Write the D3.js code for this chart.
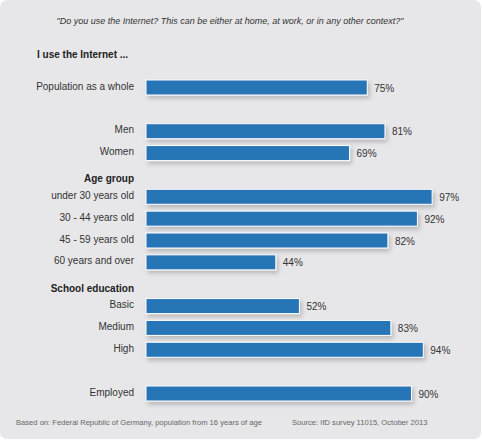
<!DOCTYPE html>
<html>
<head>
<meta charset="utf-8">
<script src="https://cdn.jsdelivr.net/npm/d3@7"></script>
<style>
  body { margin: 0; background: #fff; }
  svg { display: block; font-family: "Liberation Sans", Arial, sans-serif; }
</style>
</head>
<body>
<script>
// survey rows: label, value and slot (row position in the layout)
var labels = ["Population as a whole", "Men", "Women",
  "under 30 years old", "30 - 44 years old", "45 - 59 years old", "60 years and over",
  "Basic", "Medium", "High", "Employed"]
var values = [75, 81, 69, 97, 92, 82, 44, 52, 83, 94, 90]
var slots = [0, 2, 3, 5, 6, 7, 8, 10, 11, 12, 14]

var groupHeaders = ["Age group", "School education"]
var groupSlots = [4, 9]

var question = "\"Do you use the Internet? This can be either at home, at work, or in any other context?\""
var heading = "I use the Internet ..."
var noteLeft = "Based on: Federal Republic of Germany, population from 16 years of age"
var noteRight = "Source: IfD survey 11015, October 2013"

var width = 482, height = 440

var svg = d3.select("body")
  .append("svg")
  .attr("width", width)
  .attr("height", height)

var defs = svg.append("defs")
var shadow = defs.append("filter")
  .attr("id", "shadow")
  .attr("x", "-10%").attr("y", "-40%")
  .attr("width", "130%").attr("height", "220%")
shadow.append("feDropShadow")
  .attr("dx", 2).attr("dy", 3)
  .attr("stdDeviation", 2)
  .attr("flood-color", "#000")
  .attr("flood-opacity", 0.2)

// panel background
svg.append("rect")
  .attr("x", 0).attr("y", 0)
  .attr("width", 481).attr("height", 439)
  .attr("rx", 7)
  .attr("fill", "#e7e7e9")

var x = d3.scaleLinear()
  .domain([0, 100])
  .range([146, 441])

var y = d3.scaleLinear()
  .domain([0, 14])
  .range([87.5, 393.5])

var barH = 15

svg.append("text")
  .attr("x", 230).attr("y", 24)
  .attr("text-anchor", "middle")
  .style("font-style", "italic")
  .style("font-size", "9px")
  .attr("fill", "#333")
  .text(question)

svg.append("text")
  .attr("x", 37).attr("y", 58)
  .style("font-weight", "bold")
  .style("font-size", "10px")
  .attr("fill", "#222")
  .text(heading)

svg.selectAll("groupheads")
  .data(groupHeaders)
  .enter()
  .append("text")
    .attr("x", 134)
    .attr("y", function(d, i){ return y(groupSlots[i]) + 7.5 })
    .attr("text-anchor", "end")
    .style("font-weight", "bold")
    .style("font-size", "10px")
    .attr("fill", "#222")
    .text(function(d){ return d })

var rows = svg.selectAll("rows")
  .data(values)
  .enter()
  .append("g")

rows.append("rect")
  .attr("x", x(0))
  .attr("y", function(d, i){ return y(slots[i]) - barH / 2 })
  .attr("width", function(d){ return x(d) - x(0) })
  .attr("height", barH)
  .attr("fill", "#2874b7")
  .attr("stroke", "#fff")
  .attr("stroke-width", 1)
  .attr("filter", "url(#shadow)")

rows.append("text")
  .attr("x", 134)
  .attr("y", function(d, i){ return y(slots[i]) + 2 })
  .attr("text-anchor", "end")
  .style("font-size", "10px")
  .attr("fill", "#333")
  .text(function(d, i){ return labels[i] })

rows.append("text")
  .attr("x", function(d){ return x(d) + 7 })
  .attr("y", function(d, i){ return y(slots[i]) + 4 })
  .style("font-size", "10px")
  .attr("fill", "#333")
  .text(function(d){ return d + "%" })

svg.append("text")
  .attr("x", 16).attr("y", 425)
  .style("font-size", "7.6px")
  .attr("fill", "#666")
  .text(noteLeft)

svg.append("text")
  .attr("x", 292).attr("y", 425)
  .style("font-size", "7.6px")
  .attr("fill", "#666")
  .text(noteRight)
</script>
</body>
</html>
